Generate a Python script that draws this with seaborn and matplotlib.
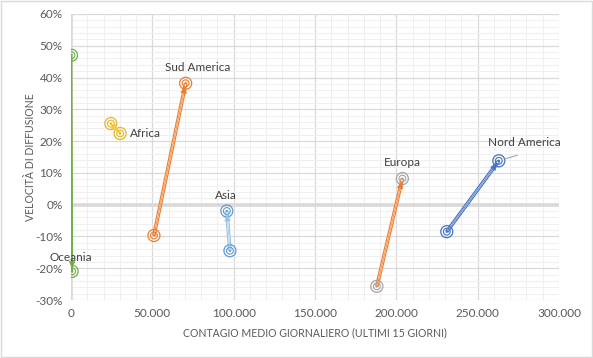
import matplotlib
matplotlib.use("Agg")
import matplotlib.pyplot as plt
import matplotlib.ticker as mticker
import seaborn as sns
import pandas as pd

# ---- Data ----
continents = ["Oceania", "Africa", "Sud America", "Asia", "Europa", "Nord America"]
x_start = [300, 24500, 51000, 97700, 188000, 231000]
y_start = [0.47, 0.255, -0.097, -0.145, -0.257, -0.085]
x_end = [700, 30200, 70500, 95800, 203700, 263000]
y_end = [-0.21, 0.224, 0.382, -0.02, 0.082, 0.138]

marker_colors = ["#70AD47", "#E8B521", "#ED7D31", "#5B9BD5", "#A5A5A5", "#4472C4"]
line_colors = ["#70AD47", "#F2C94C", "#ED7D31", "#9DC3E6", "#ED7D31", "#4472C4"]

df = pd.DataFrame({"continent": continents, "x0": x_start, "y0": y_start,
                   "x1": x_end, "y1": y_end})

sns.set_theme(style="white")
plt.rcParams["font.family"] = ["Lato", "DejaVu Sans"]

fig = plt.figure(figsize=(5.93, 3.58), dpi=100)
ax = fig.add_axes([0.1197, 0.162, 0.823, 0.799])

# ---- Grid ----
ax.set_xlim(0, 300000)
ax.set_ylim(-0.30, 0.60)
ax.xaxis.set_major_locator(mticker.MultipleLocator(50000))
ax.xaxis.set_minor_locator(mticker.MultipleLocator(10000))
ax.yaxis.set_major_locator(mticker.MultipleLocator(0.10))
ax.yaxis.set_minor_locator(mticker.MultipleLocator(0.02))
ax.grid(which="major", color="#D9D9D9", lw=0.9)
ax.grid(which="minor", color="#EFEFEF", lw=0.7)
ax.set_axisbelow(True)
for s in ax.spines.values():
    s.set_visible(False)
ax.axhline(0, color="#D9D9D9", lw=2.6, zorder=1)
ax.axvline(0, color="#D9D9D9", lw=2.6, zorder=1)

ax.xaxis.set_major_formatter(mticker.FuncFormatter(lambda v, p: f"{int(v):,}".replace(",", ".")))
ax.yaxis.set_major_formatter(mticker.FuncFormatter(lambda v, p: f"{round(v * 100):d}%"))
ax.tick_params(axis="both", which="both", length=0, labelsize=8.5, labelcolor="#595959", pad=6)

# ---- Arrows (double line + head) ----
for i, r in df.iterrows():
    c = line_colors[i]
    if r.continent in ("Oceania", "Africa"):
        ax.plot([r.x0, r.x1], [r.y0, r.y1], color=c, lw=1.4, zorder=2)
    else:
        ax.plot([r.x0, r.x1], [r.y0, r.y1], color=c, lw=2.7, zorder=2, solid_capstyle="butt")
        ax.plot([r.x0, r.x1], [r.y0, r.y1], color="white", lw=1.0, zorder=2, solid_capstyle="butt")

# ---- Double circle markers ----
for pts in (("x0", "y0"), ("x1", "y1")):
    sns.scatterplot(data=df, x=pts[0], y=pts[1], hue="continent", palette=marker_colors,
                    s=75, marker="o", linewidth=0.9, legend=False, ax=ax, zorder=4)
    sns.scatterplot(data=df, x=pts[0], y=pts[1], hue="continent", palette=marker_colors,
                    s=24, marker="o", linewidth=0.8, legend=False, ax=ax, zorder=4)
    sns.scatterplot(data=df, x=pts[0], y=pts[1], hue="continent", palette=marker_colors,
                    s=3, marker="o", linewidth=0, legend=False, ax=ax, zorder=4)
# hollow rings: edge takes the fill colour
for coll in ax.collections:
    fc = coll.get_facecolors()
    if len(fc) and coll.get_sizes()[0] > 10:
        coll.set_edgecolors(fc)
        coll.set_facecolors("none")

for i, r in df.iterrows():
    ax.annotate("", xy=(r.x1, r.y1), xytext=(r.x0, r.y0),
                arrowprops=dict(arrowstyle="-|>,head_length=0.45,head_width=0.2",
                                color=line_colors[i], lw=0.5, mutation_scale=10,
                                shrinkA=0, shrinkB=2), zorder=5)

# ---- Labels ----
lab_kw = dict(fontsize=8.5, color="#404040", zorder=6, textcoords="offset points", va="center")
ax.annotate("Oceania", (x_end[0], y_end[0]), xytext=(-1, 10), ha="center", **lab_kw)
ax.annotate("Africa", (x_end[1], y_end[1]), xytext=(7, 0), ha="left", **lab_kw)
ax.annotate("Sud America", (x_end[2], y_end[2]), xytext=(9, 11), ha="center", **lab_kw)
ax.annotate("Asia", (x_end[3], y_end[3]), xytext=(-1, 11.5), ha="center", **lab_kw)
ax.annotate("Europa", (x_end[4], y_end[4]), xytext=(0, 11.5), ha="center", **lab_kw)
ax.annotate("Nord America", (x_end[5], y_end[5]), xytext=(-8, 13), ha="left", **lab_kw)
ax.annotate("", (x_end[5] + 2500, y_end[5] + 0.004), xytext=(x_end[5] + 13000, y_end[5] + 0.02),
            arrowprops=dict(arrowstyle="-", color="#A6A6A6", lw=0.8), zorder=5)

ax.set_xlabel("CONTAGIO MEDIO GIORNALIERO (ULTIMI 15 GIORNI)", fontsize=7.6, color="#595959",
              labelpad=6)
ax.set_ylabel("VELOCITÀ DI DIFFUSIONE", fontsize=7.6, color="#595959", labelpad=1)
ax.yaxis.set_label_coords(-0.072, 0.5)

fig.patches.append(plt.Rectangle((0.001, 0.002), 0.997, 0.995, transform=fig.transFigure,
                                 fill=False, edgecolor="#D9D9D9", lw=1))

fig.savefig("out.png", dpi=100)
